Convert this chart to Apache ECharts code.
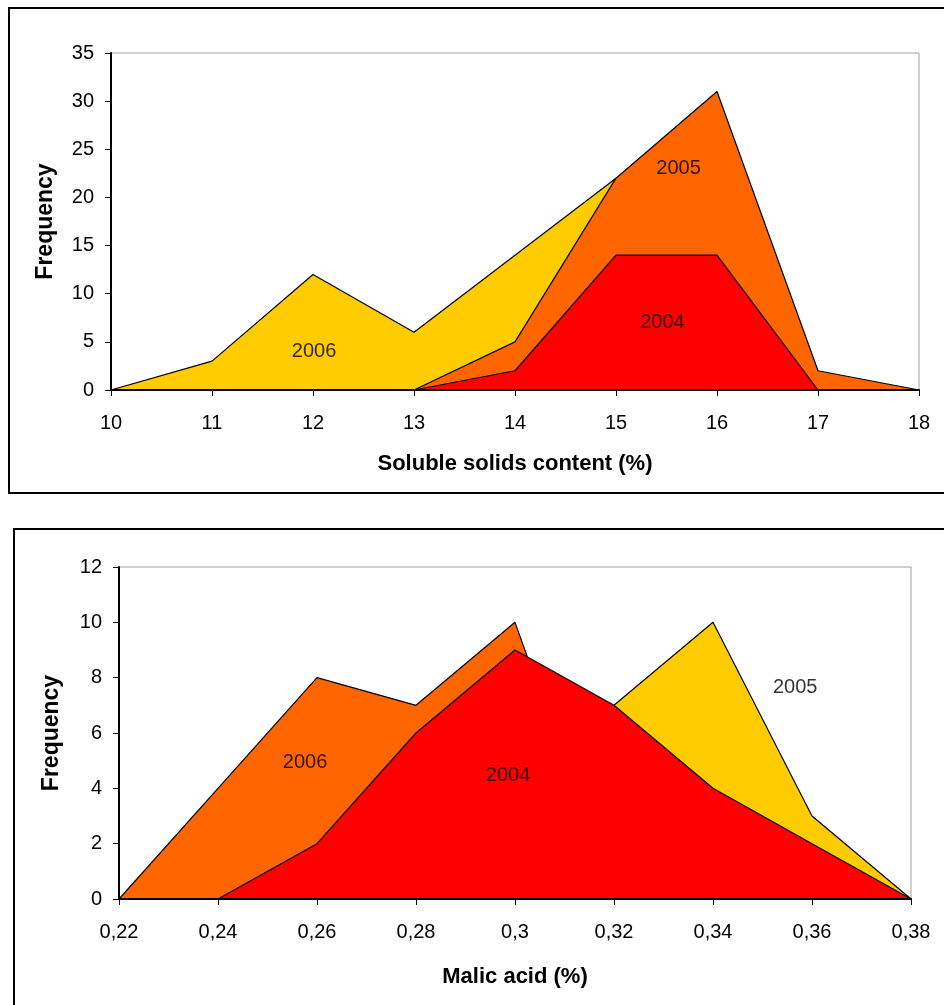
<!DOCTYPE html>
<html>
<head>
<meta charset="utf-8">
<script src="https://cdn.jsdelivr.net/npm/echarts@6/dist/echarts.min.js"></script>
<style>
html,body{margin:0;padding:0;background:#fff;}
#c{width:944px;height:1005px;}
</style>
</head>
<body>
<div id="c"></div>
<script>
// ---- Top chart: Soluble solids content ----
var ssCats = ['10','11','12','13','14','15','16','17','18'];
var ss2006 = [0, 3, 12, 6, 14, 22, 10, 1, 0];
var ss2005 = [null, null, null, 0, 5, 22, 31, 2, 0];
var ss2004 = [null, null, null, 0, 2, 14, 14, 0, 0];
var ssLabels = [['2006', 2.01, 4.05], ['2005', 5.62, 23.05], ['2004', 5.46, 7.06]];

// ---- Bottom chart: Malic acid ----
var maCats = ['0,22','0,24','0,26','0,28','0,3','0,32','0,34','0,36','0,38'];
var ma2005 = [0, 0, 1, 3, 5, 7, 10, 3, 0];
var ma2006 = [0, 4, 8, 7, 10, 0, 0, 0, 0];
var ma2004 = [null, 0, 2, 6, 9, 7, 4, 2, 0];
var maLabels = [['2006', 1.88, 4.92], ['2005', 6.83, 7.63], ['2004', 3.93, 4.45]];

var FONT = '"Liberation Sans", Arial, sans-serif';
var YELLOW = '#FFCC00', ORANGE = '#FF6600', RED = '#FF0000';

function pairs(arr) {
  var out = [];
  arr.forEach(function (v, i) { if (v !== null) out.push([i, v]); });
  return out;
}
function area(name, arr, color, gi, z) {
  return {
    name: name, type: 'line', xAxisIndex: gi, yAxisIndex: gi, z: z,
    data: pairs(arr), symbol: 'none', silent: true,
    lineStyle: { color: '#000', width: 1.2 },
    areaStyle: { color: color, opacity: 1 },
    itemStyle: { color: color }
  };
}
function labels(list, gi) {
  return {
    type: 'scatter', xAxisIndex: gi, yAxisIndex: gi, silent: true,
    symbolSize: 1, itemStyle: { color: 'rgba(0,0,0,0)' },
    data: list.map(function (l) { return [l[1], l[2], l[0]]; }),
    label: {
      show: true, position: 'inside', color: '#000', fontSize: 20, fontFamily: FONT,
      formatter: function (p) { return p.data[2]; }
    },
    z: 20
  };
}
function xAxis(cats, gi, name, gap) {
  return {
    type: 'value', gridIndex: gi, min: 0, max: cats.length - 1, interval: 1,
    name: name, nameLocation: 'middle', nameGap: gap,
    nameTextStyle: { fontFamily: FONT, fontSize: 22, fontWeight: 'bold', color: '#000' },
    axisLine: { show: true, onZero: false, lineStyle: { color: '#000', width: 2 } },
    axisTick: { show: true, length: 6, lineStyle: { color: '#000', width: 1 } },
    axisLabel: {
      color: '#000', fontFamily: FONT, fontSize: 20, margin: 23,
      formatter: function (v) { return cats[v]; }
    },
    splitLine: { show: false },
    z: 30
  };
}
function yAxis(gi, max, interval, gap) {
  return {
    type: 'value', gridIndex: gi, min: 0, max: max, interval: interval,
    name: 'Frequency', nameLocation: 'middle', nameGap: gap,
    nameTextStyle: { fontFamily: FONT, fontSize: 23, fontWeight: 'bold', color: '#000' },
    axisLine: { show: true, lineStyle: { color: '#000', width: 2 } },
    axisTick: { show: true, length: 6, lineStyle: { color: '#000', width: 1 } },
    axisLabel: { color: '#000', fontFamily: FONT, fontSize: 20, margin: 17 },
    splitLine: { show: false },
    z: 30
  };
}

var chart = echarts.init(document.getElementById('c'), null, { renderer: 'canvas' });
chart.setOption({
  animation: false,
  backgroundColor: '#fff',
  grid: [
    { left: 111, top: 53, width: 808, height: 337, show: true, borderColor: '#a0a0a0', borderWidth: 1, backgroundColor: '#fff' },
    { left: 119, top: 567, width: 792, height: 332, show: true, borderColor: '#a0a0a0', borderWidth: 1, backgroundColor: '#fff' }
  ],
  xAxis: [xAxis(ssCats, 0, 'Soluble solids content (%)', 63), xAxis(maCats, 1, 'Malic acid (%)', 67)],
  yAxis: [yAxis(0, 35, 5, 54), yAxis(1, 12, 2, 56)],
  graphic: [
    { type: 'rect', shape: { x: 9, y: 8, width: 950, height: 485 }, style: { fill: 'none', stroke: '#000', lineWidth: 2 }, z: 100 },
    { type: 'rect', shape: { x: 14, y: 529, width: 950, height: 500 }, style: { fill: 'none', stroke: '#000', lineWidth: 2 }, z: 100 }
  ],
  series: [
    area('2006', ss2006, YELLOW, 0, 3),
    area('2005', ss2005, ORANGE, 0, 5),
    area('2004', ss2004, RED, 0, 7),
    labels(ssLabels, 0),
    area('2005', ma2005, YELLOW, 1, 3),
    area('2006', ma2006, ORANGE, 1, 5),
    area('2004', ma2004, RED, 1, 7),
    labels(maLabels, 1)
  ]
});
</script>
</body>
</html>
